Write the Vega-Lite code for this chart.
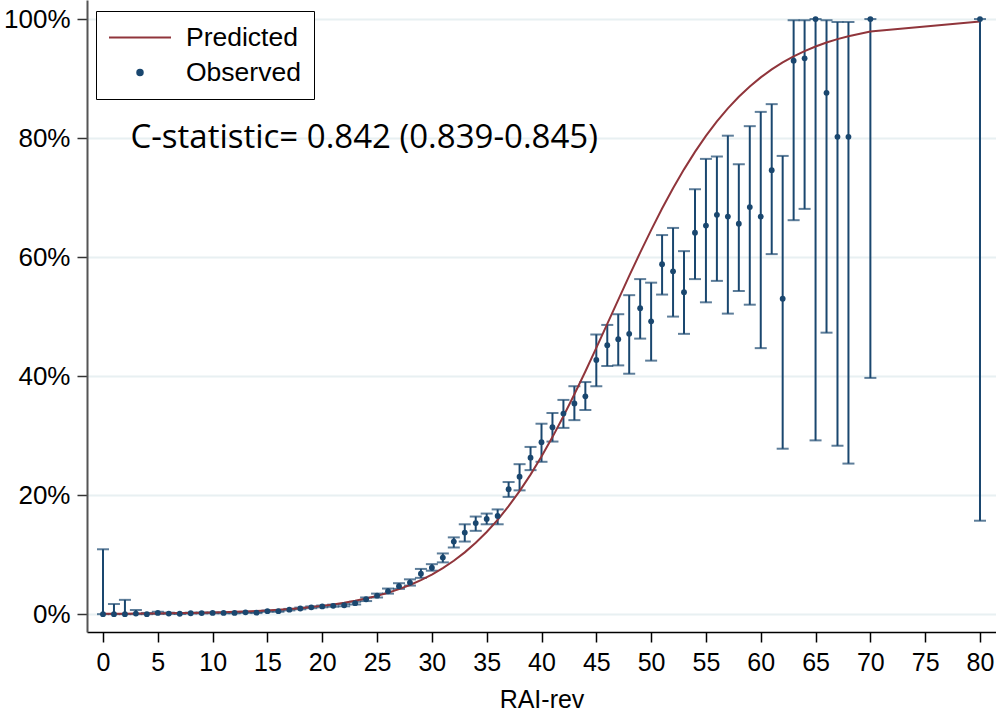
{
  "$schema": "https://vega.github.io/schema/vega-lite/v6.json",
  "width": 909,
  "height": 632,
  "autosize": {"type": "none"},
  "padding": {"left": 87, "top": 0, "right": 0, "bottom": 80},
  "background": "white",
  "config": {"view": {"stroke": null}, "font": "Liberation Sans"},
  "data": {
    "values": [
      {"x": 0, "obs": 0, "lo": 0, "hi": 10.9, "pred": 0.055},
      {"x": 1, "obs": 0, "lo": 0, "hi": 1.7, "pred": 0.065},
      {"x": 2, "obs": 0, "lo": 0, "hi": 2.4, "pred": 0.076},
      {"x": 3, "obs": 0.1, "lo": 0, "hi": 0.7, "pred": 0.09},
      {"x": 4, "obs": 0, "lo": 0, "hi": 0.2, "pred": 0.106},
      {"x": 5, "obs": 0.2, "lo": 0.05, "hi": 0.4, "pred": 0.124},
      {"x": 6, "obs": 0.1, "lo": 0.05, "hi": 0.25, "pred": 0.146},
      {"x": 7, "obs": 0.07, "lo": 0.03, "hi": 0.15, "pred": 0.172},
      {"x": 8, "obs": 0.15, "lo": 0.1, "hi": 0.25, "pred": 0.202},
      {"x": 9, "obs": 0.18, "lo": 0.12, "hi": 0.27, "pred": 0.237},
      {"x": 10, "obs": 0.2, "lo": 0.14, "hi": 0.28, "pred": 0.279},
      {"x": 11, "obs": 0.2, "lo": 0.14, "hi": 0.28, "pred": 0.327},
      {"x": 12, "obs": 0.2, "lo": 0.14, "hi": 0.3, "pred": 0.385},
      {"x": 13, "obs": 0.3, "lo": 0.22, "hi": 0.38, "pred": 0.452},
      {"x": 14, "obs": 0.25, "lo": 0.18, "hi": 0.35, "pred": 0.531},
      {"x": 15, "obs": 0.5, "lo": 0.4, "hi": 0.6, "pred": 0.624},
      {"x": 16, "obs": 0.5, "lo": 0.4, "hi": 0.6, "pred": 0.733},
      {"x": 17, "obs": 0.75, "lo": 0.63, "hi": 0.88, "pred": 0.861},
      {"x": 18, "obs": 0.95, "lo": 0.82, "hi": 1.1, "pred": 1.01},
      {"x": 19, "obs": 1.15, "lo": 1.0, "hi": 1.3, "pred": 1.186},
      {"x": 20, "obs": 1.3, "lo": 1.15, "hi": 1.45, "pred": 1.391},
      {"x": 21, "obs": 1.4, "lo": 1.25, "hi": 1.6, "pred": 1.632},
      {"x": 22, "obs": 1.5, "lo": 1.32, "hi": 1.7, "pred": 1.913},
      {"x": 23, "obs": 1.85, "lo": 1.62, "hi": 2.08, "pred": 2.24},
      {"x": 24, "obs": 2.5, "lo": 2.2, "hi": 2.8, "pred": 2.62},
      {"x": 25, "obs": 3.1, "lo": 2.8, "hi": 3.45, "pred": 3.07},
      {"x": 26, "obs": 3.85, "lo": 3.45, "hi": 4.3, "pred": 3.59},
      {"x": 27, "obs": 4.7, "lo": 4.25, "hi": 5.2, "pred": 4.2},
      {"x": 28, "obs": 5.3, "lo": 4.8, "hi": 5.85, "pred": 4.9},
      {"x": 29, "obs": 6.8, "lo": 6.1, "hi": 7.6, "pred": 5.72},
      {"x": 30, "obs": 7.8, "lo": 7.3, "hi": 8.4, "pred": 6.65},
      {"x": 31, "obs": 9.5, "lo": 8.7, "hi": 10.2, "pred": 7.73},
      {"x": 32, "obs": 12.2, "lo": 11.2, "hi": 12.9, "pred": 8.97},
      {"x": 33, "obs": 13.7, "lo": 12.2, "hi": 15.1, "pred": 10.38},
      {"x": 34, "obs": 15.3, "lo": 14.0, "hi": 16.4, "pred": 11.99},
      {"x": 35, "obs": 16.0, "lo": 15.1, "hi": 16.9, "pred": 13.81},
      {"x": 36, "obs": 16.5, "lo": 15.1, "hi": 17.6, "pred": 15.85},
      {"x": 37, "obs": 21.0, "lo": 19.7, "hi": 22.2, "pred": 18.14},
      {"x": 38, "obs": 23.1, "lo": 20.8, "hi": 25.2, "pred": 20.67},
      {"x": 39, "obs": 26.3, "lo": 24.2, "hi": 28.1, "pred": 23.45},
      {"x": 40, "obs": 28.9, "lo": 25.6, "hi": 32.0, "pred": 26.48},
      {"x": 41, "obs": 31.4, "lo": 29.0, "hi": 33.8, "pred": 29.75},
      {"x": 42, "obs": 33.7, "lo": 31.3, "hi": 36.0, "pred": 33.25},
      {"x": 43, "obs": 35.4, "lo": 32.6, "hi": 38.3, "pred": 36.94},
      {"x": 44, "obs": 36.6, "lo": 34.3, "hi": 39.0, "pred": 40.78},
      {"x": 45, "obs": 42.7, "lo": 38.3, "hi": 47.0, "pred": 44.74},
      {"x": 46, "obs": 45.2, "lo": 41.7, "hi": 48.6, "pred": 48.78},
      {"x": 47, "obs": 46.2, "lo": 41.8, "hi": 50.4, "pred": 52.82},
      {"x": 48, "obs": 47.1, "lo": 40.4, "hi": 53.6, "pred": 56.83},
      {"x": 49, "obs": 51.4, "lo": 46.3, "hi": 56.3, "pred": 60.75},
      {"x": 50, "obs": 49.2, "lo": 42.6, "hi": 55.7, "pred": 64.54},
      {"x": 51, "obs": 58.8, "lo": 53.7, "hi": 63.7, "pred": 68.16},
      {"x": 52, "obs": 57.6, "lo": 50.0, "hi": 64.9, "pred": 71.56},
      {"x": 53, "obs": 54.1, "lo": 47.1, "hi": 61.0, "pred": 74.74},
      {"x": 54, "obs": 64.1, "lo": 56.3, "hi": 71.4, "pred": 77.68},
      {"x": 55, "obs": 65.3, "lo": 52.4, "hi": 76.5, "pred": 80.36},
      {"x": 56, "obs": 67.1, "lo": 56.0, "hi": 76.9, "pred": 82.79},
      {"x": 57, "obs": 66.8, "lo": 50.5, "hi": 80.4, "pred": 84.98},
      {"x": 58, "obs": 65.6, "lo": 54.3, "hi": 75.6, "pred": 86.93},
      {"x": 59, "obs": 68.4, "lo": 52.0, "hi": 82.0, "pred": 88.67},
      {"x": 60, "obs": 66.8, "lo": 44.7, "hi": 84.4, "pred": 90.2},
      {"x": 61, "obs": 74.6, "lo": 60.5, "hi": 85.7, "pred": 91.54},
      {"x": 62, "obs": 53.0, "lo": 27.8, "hi": 77.0, "pred": 92.71},
      {"x": 63, "obs": 93.0, "lo": 66.2, "hi": 99.8, "pred": 93.73},
      {"x": 64, "obs": 93.4, "lo": 68.1, "hi": 99.8, "pred": 94.62},
      {"x": 65, "obs": 100, "lo": 29.2, "hi": 100, "pred": 95.38},
      {"x": 66, "obs": 87.6, "lo": 47.3, "hi": 99.8, "pred": 96.05},
      {"x": 67, "obs": 80.2, "lo": 28.3, "hi": 99.5, "pred": 96.62},
      {"x": 68, "obs": 80.2, "lo": 25.3, "hi": 99.5, "pred": 97.11},
      {"x": 70, "obs": 100, "lo": 39.7, "hi": 100, "pred": 97.9},
      {"x": 80, "obs": 100, "lo": 15.7, "hi": 100, "pred": 99.58}
    ]
  },
  "encoding": {
    "x": {
      "field": "x",
      "type": "quantitative",
      "scale": {"domain": [-1.46, 81.46], "nice": false, "zero": false},
      "axis": {
        "values": [0, 5, 10, 15, 20, 25, 30, 35, 40, 45, 50, 55, 60, 65, 70, 75, 80],
        "title": "RAI-rev",
        "titleFont": "Liberation Sans",
        "titleFontSize": 25,
        "titleFontWeight": "normal",
        "titleColor": "black",
        "titlePadding": 12,
        "labelFont": "Liberation Sans",
        "labelFontSize": 25,
        "labelColor": "black",
        "labelPadding": 8,
        "labelFlush": false,
        "tickSize": 10,
        "tickColor": "black",
        "tickWidth": 1.5,
        "domainColor": "black",
        "domainWidth": 1.5,
        "grid": false
      }
    }
  },
  "layer": [
    {
      "mark": {"type": "rule", "color": "#1a476f", "strokeWidth": 2},
      "encoding": {
        "y": {
          "field": "lo",
          "type": "quantitative",
          "scale": {"domain": [-3.0, 103.2], "nice": false, "zero": false},
          "axis": {
            "values": [0, 20, 40, 60, 80, 100],
            "labelExpr": "datum.value + '%'",
            "title": null,
            "labelFont": "Liberation Sans",
            "labelFontSize": 26,
            "labelColor": "black",
            "labelPadding": 7,
            "tickSize": 10,
            "tickColor": "#333333",
            "tickWidth": 1.5,
            "domainColor": "#555555",
            "domainWidth": 2,
            "grid": true,
            "gridColor": "#e8f0f2",
            "gridWidth": 2
          }
        },
        "y2": {"field": "hi"}
      }
    },
    {
      "mark": {"type": "tick", "orient": "horizontal", "color": "#1a476f", "size": 12, "thickness": 2},
      "encoding": {
        "y": {"field": "lo", "type": "quantitative", "scale": {"domain": [-3.0, 103.2], "nice": false, "zero": false}}
      }
    },
    {
      "mark": {"type": "tick", "orient": "horizontal", "color": "#1a476f", "size": 12, "thickness": 2},
      "encoding": {
        "y": {"field": "hi", "type": "quantitative", "scale": {"domain": [-3.0, 103.2], "nice": false, "zero": false}}
      }
    },
    {
      "mark": {"type": "line", "strokeWidth": 2},
      "encoding": {
        "y": {"field": "pred", "type": "quantitative", "scale": {"domain": [-3.0, 103.2], "nice": false, "zero": false}},
        "color": {
          "datum": "Predicted",
          "type": "nominal",
          "scale": {"domain": ["Predicted", "Observed"], "range": ["#90353b", "#1a476f"]},
          "legend": {
            "title": null,
            "orient": "none",
            "legendX": 9,
            "legendY": 11,
            "strokeColor": "black",
            "fillColor": "white",
            "padding": 13,
            "symbolOffset": -1,
            "clipHeight": 27,
            "labelFont": "Liberation Sans",
            "labelFontSize": 26.5,
            "labelColor": "black",
            "labelOffset": 14,
            "labelExpr": "datum.label + '\u00a0\u00a0'",
            "rowPadding": 8,
            "symbolType": "stroke",
            "symbolSize": 400,
            "symbolStrokeWidth": 2,
            "encode": {
              "symbols": {
                "update": {
                  "shape": {"signal": "datum.value === 'Observed' ? 'circle' : 'stroke'"},
                  "size": {"signal": "datum.value === 'Observed' ? 30 : 3844"},
                  "fill": {"signal": "datum.value === 'Observed' ? '#1a476f' : 'transparent'"},
                  "stroke": {"signal": "datum.value === 'Observed' ? 'transparent' : '#90353b'"},
                  "strokeWidth": {"value": 2},
                  "opacity": {"value": 1}
                }
              }
            }
          }
        }
      }
    },
    {
      "mark": {"type": "point", "filled": true, "size": 34, "opacity": 1},
      "encoding": {
        "y": {"field": "obs", "type": "quantitative", "scale": {"domain": [-3.0, 103.2], "nice": false, "zero": false}},
        "color": {
          "datum": "Observed",
          "type": "nominal",
          "scale": {"domain": ["Predicted", "Observed"], "range": ["#90353b", "#1a476f"]}
        }
      }
    },
    {
      "data": {"values": [{"tx": 2.5, "ty": 80, "label": "C-statistic= 0.842 (0.839-0.845)"}]},
      "mark": {"type": "text", "align": "left", "baseline": "middle", "font": "Open Sans", "fontSize": 33, "color": "black"},
      "encoding": {
        "x": {"field": "tx", "type": "quantitative"},
        "y": {"field": "ty", "type": "quantitative", "scale": {"domain": [-3.0, 103.2], "nice": false, "zero": false}},
        "text": {"field": "label"}
      }
    }
  ]
}
